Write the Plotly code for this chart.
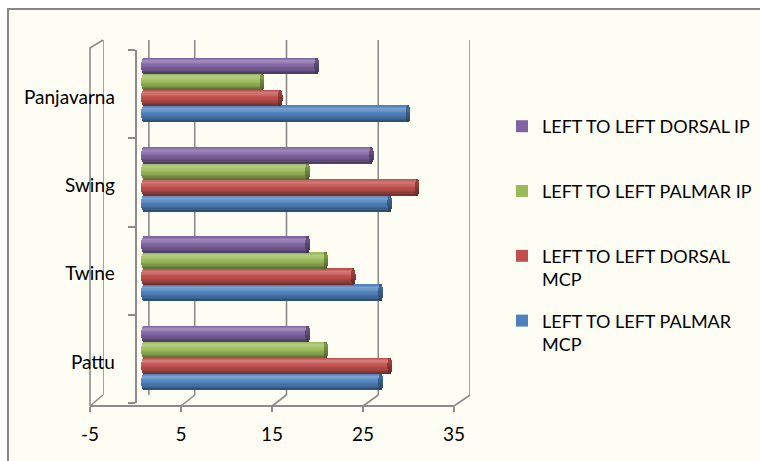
import numpy as np
import plotly.graph_objects as go

# ---- data -------------------------------------------------------------
categories = ["Pattu", "Twine", "Swing", "Panjavarna"]
palmar_mcp = [26, 26, 27, 29]
dorsal_mcp = [27, 23, 30, 15]
palmar_ip = [20, 20, 18, 13]
dorsal_ip = [18, 18, 25, 19]
x_ticks = [-5, 5, 15, 25, 35]
x_tick_text = ["-5", "5", "15", "25", "35"]

series = [
    ("LEFT TO LEFT PALMAR<br>MCP", palmar_mcp, "#4F81BD"),
    ("LEFT TO LEFT DORSAL<br>MCP", dorsal_mcp, "#C0504D"),
    ("LEFT TO LEFT PALMAR IP<br>\u00a0", palmar_ip, "#9BBB59"),
    ("LEFT TO LEFT DORSAL IP<br>\u00a0", dorsal_ip, "#8064A2"),
]

W, H = 760, 461
FONT = "Lato, 'Open Sans', sans-serif"
LINE = "#8C8C8C"


def fx(px):
    return px / W


def fy(py):
    return (H - py) / H


def shade(hex_color, s):
    """s > 0 lightens towards white, s < 0 darkens towards black."""
    r, g, b = (int(hex_color[i:i + 2], 16) for i in (1, 3, 5))
    tgt = 255 if s > 0 else 0
    s = abs(s)
    r, g, b = (round(c + (tgt - c) * s) for c in (r, g, b))
    return f"rgb({r},{g},{b})"


# vertical light profile across a cylinder (t=+1 top, t=-1 bottom)
prof_t = [1.0, 0.6, 0.3, 0.0, -0.5, -0.85, -1.0]
prof_s = [-0.05, 0.25, 0.14, 0.0, -0.15, -0.32, -0.45]

N_STRIPS = 12
GROUP = 0.716            # fraction of a category band used by the group
BW = GROUP / len(series)  # thickness of a single cylinder
CAP = 2.4 / 9.12          # half width of the end ellipse, in value units
EPS = 0.002

fig = go.Figure()

n = len(series)
for i, (name, vals, col) in enumerate(series):
    lo = -GROUP / 2 + i * BW
    # full-size body in the series colour (carries the legend entry)
    fig.add_bar(
        y=categories, x=vals, base=0, orientation="h", offset=lo, width=BW,
        marker=dict(color=col, line=dict(width=0)), name=name,
        legendgroup=name, legendrank=n - i, showlegend=True,
        hoverinfo="skip", xaxis="x", yaxis="y3",
    )
    bodies, caps = [], []
    for k in range(N_STRIPS):
        t = 1 - (k + 0.5) * 2 / N_STRIPS
        h = CAP * np.sqrt(max(0.0, 1 - t * t))
        s = float(np.interp(-t, [-p for p in prof_t], prof_s))
        strip_lo = lo + BW * (1 - (k + 1) / N_STRIPS)
        bodies.append(dict(
            y=categories, x=vals, base=[-h] * len(vals), orientation="h",
            offset=strip_lo - EPS, width=BW / N_STRIPS + 2 * EPS,
            marker=dict(color=shade(col, s), line=dict(width=0)),
            showlegend=False, hoverinfo="skip", xaxis="x", yaxis="y3",
        ))
        caps.append(dict(
            y=categories, x=[2 * h] * len(vals), base=[v - h for v in vals],
            orientation="h", offset=strip_lo - EPS,
            width=BW / N_STRIPS + 2 * EPS,
            marker=dict(color=shade(col, 0.5 * s - 0.3), line=dict(width=0)),
            showlegend=False, hoverinfo="skip", xaxis="x", yaxis="y3",
        ))
    for b in bodies + caps:
        fig.add_bar(**b)

# empty trace so the front floor axis gets its own subplot and is drawn
fig.add_scatter(x=[None], y=[None], xaxis="x2", yaxis="y", mode="markers",
                showlegend=False, hoverinfo="skip")

# ---- frame: chart border, back wall grid, side wall, floor ------------
shapes = [
    dict(type="rect", xref="paper", yref="paper", x0=fx(8), x1=1.02,
         y0=-0.02, y1=fy(9), line=dict(color="#878787", width=2),
         fillcolor="#FDFDF4", layer="below"),
]
for v in x_ticks + [0]:
    shapes.append(dict(type="line", xref="x3", yref="paper", x0=v, x1=v,
                       y0=fy(395), y1=fy(40),
                       line=dict(color=LINE, width=1.6), layer="below"))


def front_px(v):
    return 90 + (v + 5) * 364 / 40


def back_px(v):
    return 103 + (v + 5) * 367 / 40


for v in x_ticks:
    shapes.append(dict(type="line", xref="paper", yref="paper",
                       x0=fx(front_px(v)), y0=fy(406),
                       x1=fx(back_px(v)), y1=fy(395),
                       line=dict(color=LINE, width=1.6), layer="below"))
shapes.append(dict(type="path", xref="paper", yref="paper",
                   path=(f"M{fx(90)},{fy(406)} L{fx(90)},{fy(48)} "
                         f"L{fx(103)},{fy(40)}"),
                   line=dict(color=LINE, width=1.6), layer="below"))

fig.update_layout(
    width=W, height=H, autosize=False,
    margin=dict(l=0, r=0, t=0, b=0, pad=0, autoexpand=False),
    paper_bgcolor="white", plot_bgcolor="rgba(0,0,0,0)",
    barmode="overlay", bargap=0,
    font=dict(family=FONT, size=19, color="#000000"),
    shapes=shapes,
    # axis carrying the cylinders (0 sits at the bars' depth)
    xaxis=dict(domain=[fx(90), fx(470)], range=[-53.5 / 9.12, 326.5 / 9.12],
               visible=False, anchor="y3", fixedrange=True),
    # front floor scale with labels
    xaxis2=dict(domain=[fx(90), fx(454)], range=[-5, 35], tickmode="array",
                tickvals=x_ticks, ticktext=x_tick_text,
                anchor="free", position=fy(406), side="bottom",
                showline=True, linecolor=LINE, linewidth=1.6,
                ticks="outside", ticklen=5, tickcolor=LINE, tickwidth=1.6,
                showgrid=False, zeroline=False, ticklabelstandoff=6,
                tickfont=dict(family=FONT, size=19, color="#000000"),
                fixedrange=True),
    # back wall scale (gridlines drawn as shapes)
    xaxis3=dict(domain=[fx(103), fx(470)], range=[-5, 35], visible=False,
                anchor="y", fixedrange=True),
    # front category axis
    yaxis=dict(type="category", categoryorder="array",
               categoryarray=categories, range=[-0.5, 3.5],
               domain=[fy(403), fy(50)], anchor="free", position=fx(135.5),
               showline=True, linecolor=LINE, linewidth=1.6,
               ticks="outside", ticklen=7, tickcolor=LINE, tickwidth=1.6,
               tickson="boundaries", showgrid=False, ticklabelstandoff=16,
               ticklabelshift=3,
               tickfont=dict(family=FONT, size=19, color="#000000"),
               fixedrange=True),
    # category axis at the bars' depth
    yaxis3=dict(type="category", categoryorder="array",
                categoryarray=categories, range=[-0.5, 3.5],
                domain=[fy(401.9), fy(44.5)], visible=False, anchor="x",
                fixedrange=True),
    legend=dict(x=fx(502), xanchor="left", y=fy(108), yanchor="top",
                traceorder="grouped", tracegroupgap=15,
                valign="top", bgcolor="rgba(0,0,0,0)",
                font=dict(family=FONT, size=18, color="#000000")),
)

fig.write_html("out.html")
